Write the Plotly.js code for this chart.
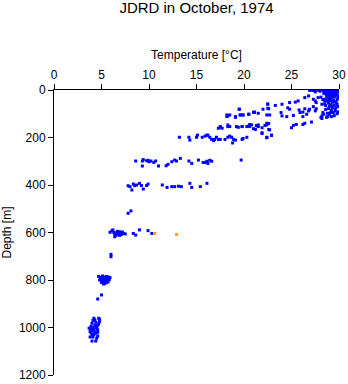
<!DOCTYPE html>
<html>
<head>
<meta charset="utf-8">
<script src="https://cdn.plot.ly/plotly-3.0.1.min.js"></script>
<style>html,body{margin:0;padding:0;background:#fff;}#chart{width:348px;height:384px;}</style>
</head>
<body>
<div id="chart"></div>
<script>
// Blue CTD points: temperature [°C] and depth [m], in matching order
const tempBlue = [
  // surface mixed layer (dense cluster)
  28.3,28.6,28.9,29.2,29.5,29.8,29.9,29.6,29.3,29.0,28.7,28.4,28.8,29.1,29.4,29.7,29.9,29.5,29.2,28.9,28.6,28.3,29.0,29.4,29.8,29.6,29.3,28.9,28.5,29.1,29.5,29.8,29.7,29.3,28.9,28.6,29.2,29.6,29.9,29.4,28.8,28.4,29.0,29.5,29.2,28.7,28.2,29.8,29.9,28.1,
  27.0,27.3,27.8,27.5,28.0,
  28.5,28.8,29.1,29.4,29.7,28.6,28.9,29.2,29.5,29.8,28.7,29.0,29.3,29.6,29.9,28.5,28.8,29.1,29.4,29.7,28.6,29.0,29.3,29.6,29.1,
  // upper thermocline
  21.1,22.0,22.5,22.6,23.3,24.0,23.9,24.0,24.6,24.8,24.8,25.4,25.7,25.2,24.5,25.8,25.9,26.2,26.4,26.2,26.6,26.8,26.9,27.3,27.5,27.6,26.4,26.8,26.9,27.5,27.3,27.5,27.6,27.8,28.2,28.2,28.3,28.5,28.7,28.8,28.1,
  20.6,21.0,21.3,21.9,22.2,22.4,22.6,21.9,22.4,22.9,25.0,25.2,25.5,26.2,26.4,27.1,
  19.5,22.5,22.5,21.0,21.5,22.4,22.7,
  18.2,18.5,19.1,19.6,19.9,20.5,
  17.5,18.3,19.2,19.8,20.6,21.5,21.9,22.4,22.6,22.7,22.4,22.9,
  // ~200 m
  13.2,14.2,14.3,15.0,15.1,15.6,15.9,16.1,16.2,16.4,16.6,16.8,16.9,17.1,17.3,17.5,18.0,18.3,18.5,18.7,18.9,18.8,19.1,19.8,19.9,20.3,
  17.3,17.5,17.7,18.3,18.5,19.4,19.8,20.3,20.5,20.8,21.2,21.5,
  18.2,18.3,19.1,19.6,19.9,20.5,21.1,19.5,
  // ~300 m
  8.6,9.3,9.4,9.75,9.9,10.0,10.2,10.5,10.7,11.0,9.3,11.8,12.0,12.4,12.7,12.9,13.3,14.2,14.5,15.2,15.7,15.9,16.1,16.2,16.4,16.6,19.7,
  // ~400 m
  7.8,8.0,8.2,8.35,8.5,8.7,9.0,9.2,9.4,9.75,9.9,11.4,11.9,12.4,12.7,13.1,13.4,14.3,14.5,15.4,16.1,
  // ~500 m
  7.8,8.1,
  // ~600 m
  5.9,6.2,6.4,6.6,6.8,6.9,7.1,7.3,7.5,6.4,6.5,6.7,7.0,8.35,8.6,9.0,9.9,10.3,6.1,6.3,6.6,6.9,7.2,
  // ~700 m
  6.0,6.0,
  // ~800 m
  4.7,4.9,5.1,5.3,5.5,5.7,5.9,4.8,5.0,5.2,5.4,5.6,5.8,5.0,5.3,5.5,5.7,5.2,
  4.9,5.1,5.4,5.6,5.8,5.0,5.3,5.5,5.2,5.7,
  5.0,4.6,
  // ~1000 m
  4.2,4.7,4.0,4.4,4.8,3.7,4.1,4.5,4.7,3.8,4.1,4.4,4.6,4.0,4.4,3.9,4.3,4.6,4.2,3.9,4.5,4.8,
  4.1,4.3,4.6,3.9,4.2,4.5,4.0,4.3,4.6,4.1,3.8,4.4
];
const depthBlue = [
  2,3,2,1,2,3,8,10,9,11,12,14,20,22,18,20,25,30,32,35,38,40,42,44,40,50,52,55,58,62,65,60,72,75,78,82,85,88,92,95,98,102,105,108,112,115,120,100,70,30,
  1,2,1,8,5,
  6,5,7,5,6,16,15,14,13,15,26,27,25,24,33,46,47,45,48,52,66,68,67,80,95,
  93,81,60,79,65,60,95,109,75,81,53,51,46,107,112,84,95,93,79,112,102,88,81,70,88,79,32,25,1,0,39,46,53,32,60,109,95,11,4,112,116,
  145,163,150,159,149,140,166,180,201,191,159,149,145,145,140,135,
  81,77,59,94,98,105,105,
  105,105,112,105,105,102,
  154,154,154,154,154,154,183,147,141,168,199,190,
  199,199,211,199,190,199,194,190,190,199,208,213,208,199,208,208,208,199,194,199,208,223,211,208,204,199,
  161,157,161,147,154,157,154,154,152,147,166,147,
  112,109,115,105,105,102,94,81,
  299,299,293,298,296,302,299,305,299,320,320,319,313,302,295,299,288,299,309,295,305,305,300,309,296,300,295,
  403,407,421,396,403,400,393,402,417,402,396,400,410,407,407,405,407,393,410,407,393,
  519,509,
  599,589,608,600,604,597,608,604,606,618,612,595,600,604,611,589,592,604,593,600,608,612,598,
  692,702,
  785,790,783,788,785,787,790,800,798,802,800,805,798,810,815,812,808,817,
  793,795,792,795,796,805,806,805,809,800,
  863,880,
  961,961,982,978,975,1003,1000,998,985,1017,1014,1024,1036,1057,1057,995,990,1010,1030,1022,1045,965,
  970,968,990,1008,1008,1003,1030,1018,1020,1040,1040,1000
];
// Orange points
const tempOrange = [10.6, 12.9];
const depthOrange = [604, 608];

const xTicks = [0, 5, 10, 15, 20, 25, 30];
const yTicks = [0, 200, 400, 600, 800, 1000, 1200];

const FONT = 'Liberation Sans, Arial, Helvetica, sans-serif';

const traces = [
  {x: tempBlue, y: depthBlue, type: 'scatter', mode: 'markers',
   marker: {symbol: 'square', size: 3, color: '#0000ff', line: {width: 0}}, hoverinfo: 'x+y'},
  {x: tempOrange, y: depthOrange, type: 'scatter', mode: 'markers',
   marker: {symbol: 'square', size: 3, color: '#ffa500', line: {width: 0}}, hoverinfo: 'x+y'}
];

const layout = {
  width: 348, height: 384,
  margin: {l: 54, r: 9, t: 90, b: 9, pad: 0},
  paper_bgcolor: '#ffffff', plot_bgcolor: '#ffffff',
  showlegend: false,
  font: {family: FONT, size: 12, color: '#000'},
  title: {text: 'JDRD in October, 1974', font: {family: FONT, size: 15, color: '#000'},
          xref: 'paper', x: 0.5, xanchor: 'center', yref: 'container', y: 0.979, yanchor: 'middle'},
  xaxis: {
    side: 'top', range: [0, 30], tickvals: xTicks, ticktext: xTicks.map(String),
    ticks: 'outside', ticklen: 5, tickwidth: 1, tickcolor: '#000',
    showline: true, linecolor: '#000', linewidth: 1,
    showgrid: false, zeroline: false, automargin: false,
    tickfont: {family: FONT, size: 12, color: '#000'},
    title: {text: 'Temperature [°C]', font: {family: FONT, size: 12, color: '#000'}, standoff: 6}
  },
  yaxis: {
    range: [1200, 0], tickvals: yTicks, ticktext: yTicks.map(String),
    ticks: 'outside', ticklen: 5, tickwidth: 1, tickcolor: '#000',
    showline: true, linecolor: '#000', linewidth: 1,
    showgrid: false, zeroline: false, automargin: false,
    tickfont: {family: FONT, size: 12, color: '#000'},
    title: {text: 'Depth [m]', font: {family: FONT, size: 12, color: '#000'}, standoff: 6}
  }
};

Plotly.newPlot('chart', traces, layout, {displayModeBar: false, staticPlot: true});
</script>
</body>
</html>
